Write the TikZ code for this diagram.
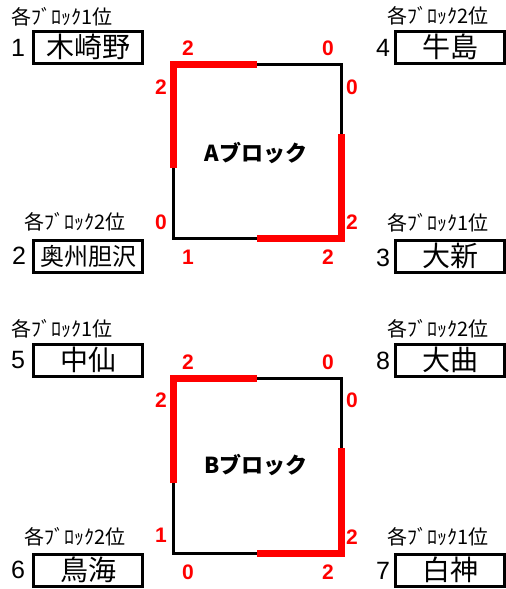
\documentclass[tikz,border=0pt]{standalone}
\usepackage{fontspec}
\setmainfont{Liberation Sans}
\newfontfamily\jp{Noto Sans CJK JP}
\tikzset{
    every node/.style={align=center,inner sep=0pt,},
    team/.style={draw,line width=3pt,minimum width=109pt,minimum height=32pt,font=\jp\fontsize{28}{28}\selectfont,},
    rank/.style={font=\jp\fontsize{20}{20}\selectfont,},
    seed/.style={font=\fontsize{25}{25}\selectfont,},
    score/.style={text=red,font=\bfseries\fontsize{21}{21}\selectfont,},
    blockname/.style={font=\jp\bfseries\fontsize{22}{22}\selectfont,},
    edge/.style={line width=3pt,line join=miter,},
    win/.style={draw=red,line width=7pt,line join=miter,},
}

\begin{document}
\begin{tikzpicture}[x=1pt,y=-1pt]
                \useasboundingbox (0,0) rectangle (506,589);

                % A block
                \node[rank] (rank1) at (62, 17) {各ﾌﾞﾛｯｸ1位};
                \node[seed] (seed1) at (18, 48) {1};
                \node[team] (kizakino) at (88, 47) {木崎野};
                \node[rank] (rank4) at (438, 16) {各ﾌﾞﾛｯｸ2位};
                \node[seed] (seed4) at (383, 48) {4};
                \node[team] (ushijima) at (450, 47) {牛島};
                \node[rank] (rank2) at (75, 222) {各ﾌﾞﾛｯｸ2位};
                \node[seed] (seed2) at (19, 256) {2};
                \node[team,font=\jp\fontsize{24}{24}\selectfont] (oshu) at (88, 256) {奥州胆沢};
                \node[rank] (rank3) at (438, 223) {各ﾌﾞﾛｯｸ1位};
                \node[seed] (seed3) at (383, 258) {3};
                \node[team] (oarata) at (450, 256) {大新};

                \coordinate (a_tl) at (173, 64);
                \coordinate (a_tr) at (341, 64);
                \coordinate (a_br) at (341, 238);
                \coordinate (a_bl) at (173, 238);
                \coordinate (a_top) at (257, 64);
                \coordinate (a_bot) at (257, 238);
                \coordinate (a_left) at (173, 168);
                \coordinate (a_right) at (341, 134);
                \draw[edge] (a_tl) -- (a_tr) -- (a_br) -- (a_bl) -- cycle;
                \draw[win] (a_left) -- (a_tl) -- (a_top);
                \draw[win] (a_right) -- (a_br) -- (a_bot);
                \node[blockname] (blockA) at (256, 153) {Aブロック};

                \node[score] (a_s1) at (188, 48) {2};
                \node[score] (a_s2) at (328, 48) {0};
                \node[score] (a_s3) at (161, 87) {2};
                \node[score] (a_s4) at (352, 87) {0};
                \node[score] (a_s5) at (161, 222) {0};
                \node[score] (a_s6) at (352, 222) {2};
                \node[score] (a_s7) at (188, 257) {1};
                \node[score] (a_s8) at (328, 257) {2};

                % B block
                \node[rank] (rank5) at (62, 329) {各ﾌﾞﾛｯｸ1位};
                \node[seed] (seed5) at (18, 360) {5};
                \node[team] (nakasen) at (88, 360) {中仙};
                \node[rank] (rank8) at (438, 329) {各ﾌﾞﾛｯｸ2位};
                \node[seed] (seed8) at (383, 361) {8};
                \node[team] (omagari) at (450, 360) {大曲};
                \node[rank] (rank6) at (75, 537) {各ﾌﾞﾛｯｸ2位};
                \node[seed] (seed6) at (18, 570) {6};
                \node[team] (chokai) at (88, 570) {鳥海};
                \node[rank] (rank7) at (438, 537) {各ﾌﾞﾛｯｸ1位};
                \node[seed] (seed7) at (383, 571) {7};
                \node[team] (shirakami) at (450, 570) {白神};

                \coordinate (b_tl) at (173, 378);
                \coordinate (b_tr) at (341, 378);
                \coordinate (b_br) at (341, 553);
                \coordinate (b_bl) at (173, 553);
                \coordinate (b_top) at (257, 378);
                \coordinate (b_bot) at (257, 553);
                \coordinate (b_left) at (173, 483);
                \coordinate (b_right) at (341, 448);
                \draw[edge] (b_tl) -- (b_tr) -- (b_br) -- (b_bl) -- cycle;
                \draw[win] (b_left) -- (b_tl) -- (b_top);
                \draw[win] (b_right) -- (b_br) -- (b_bot);
                \node[blockname] (blockB) at (256, 465) {Bブロック};

                \node[score] (b_s1) at (188, 362) {2};
                \node[score] (b_s2) at (328, 362) {0};
                \node[score] (b_s3) at (161, 400) {2};
                \node[score] (b_s4) at (352, 400) {0};
                \node[score] (b_s5) at (161, 535) {1};
                \node[score] (b_s6) at (352, 537) {2};
                \node[score] (b_s7) at (188, 572) {0};
                \node[score] (b_s8) at (328, 572) {2};
            \end{tikzpicture}
\end{document}
